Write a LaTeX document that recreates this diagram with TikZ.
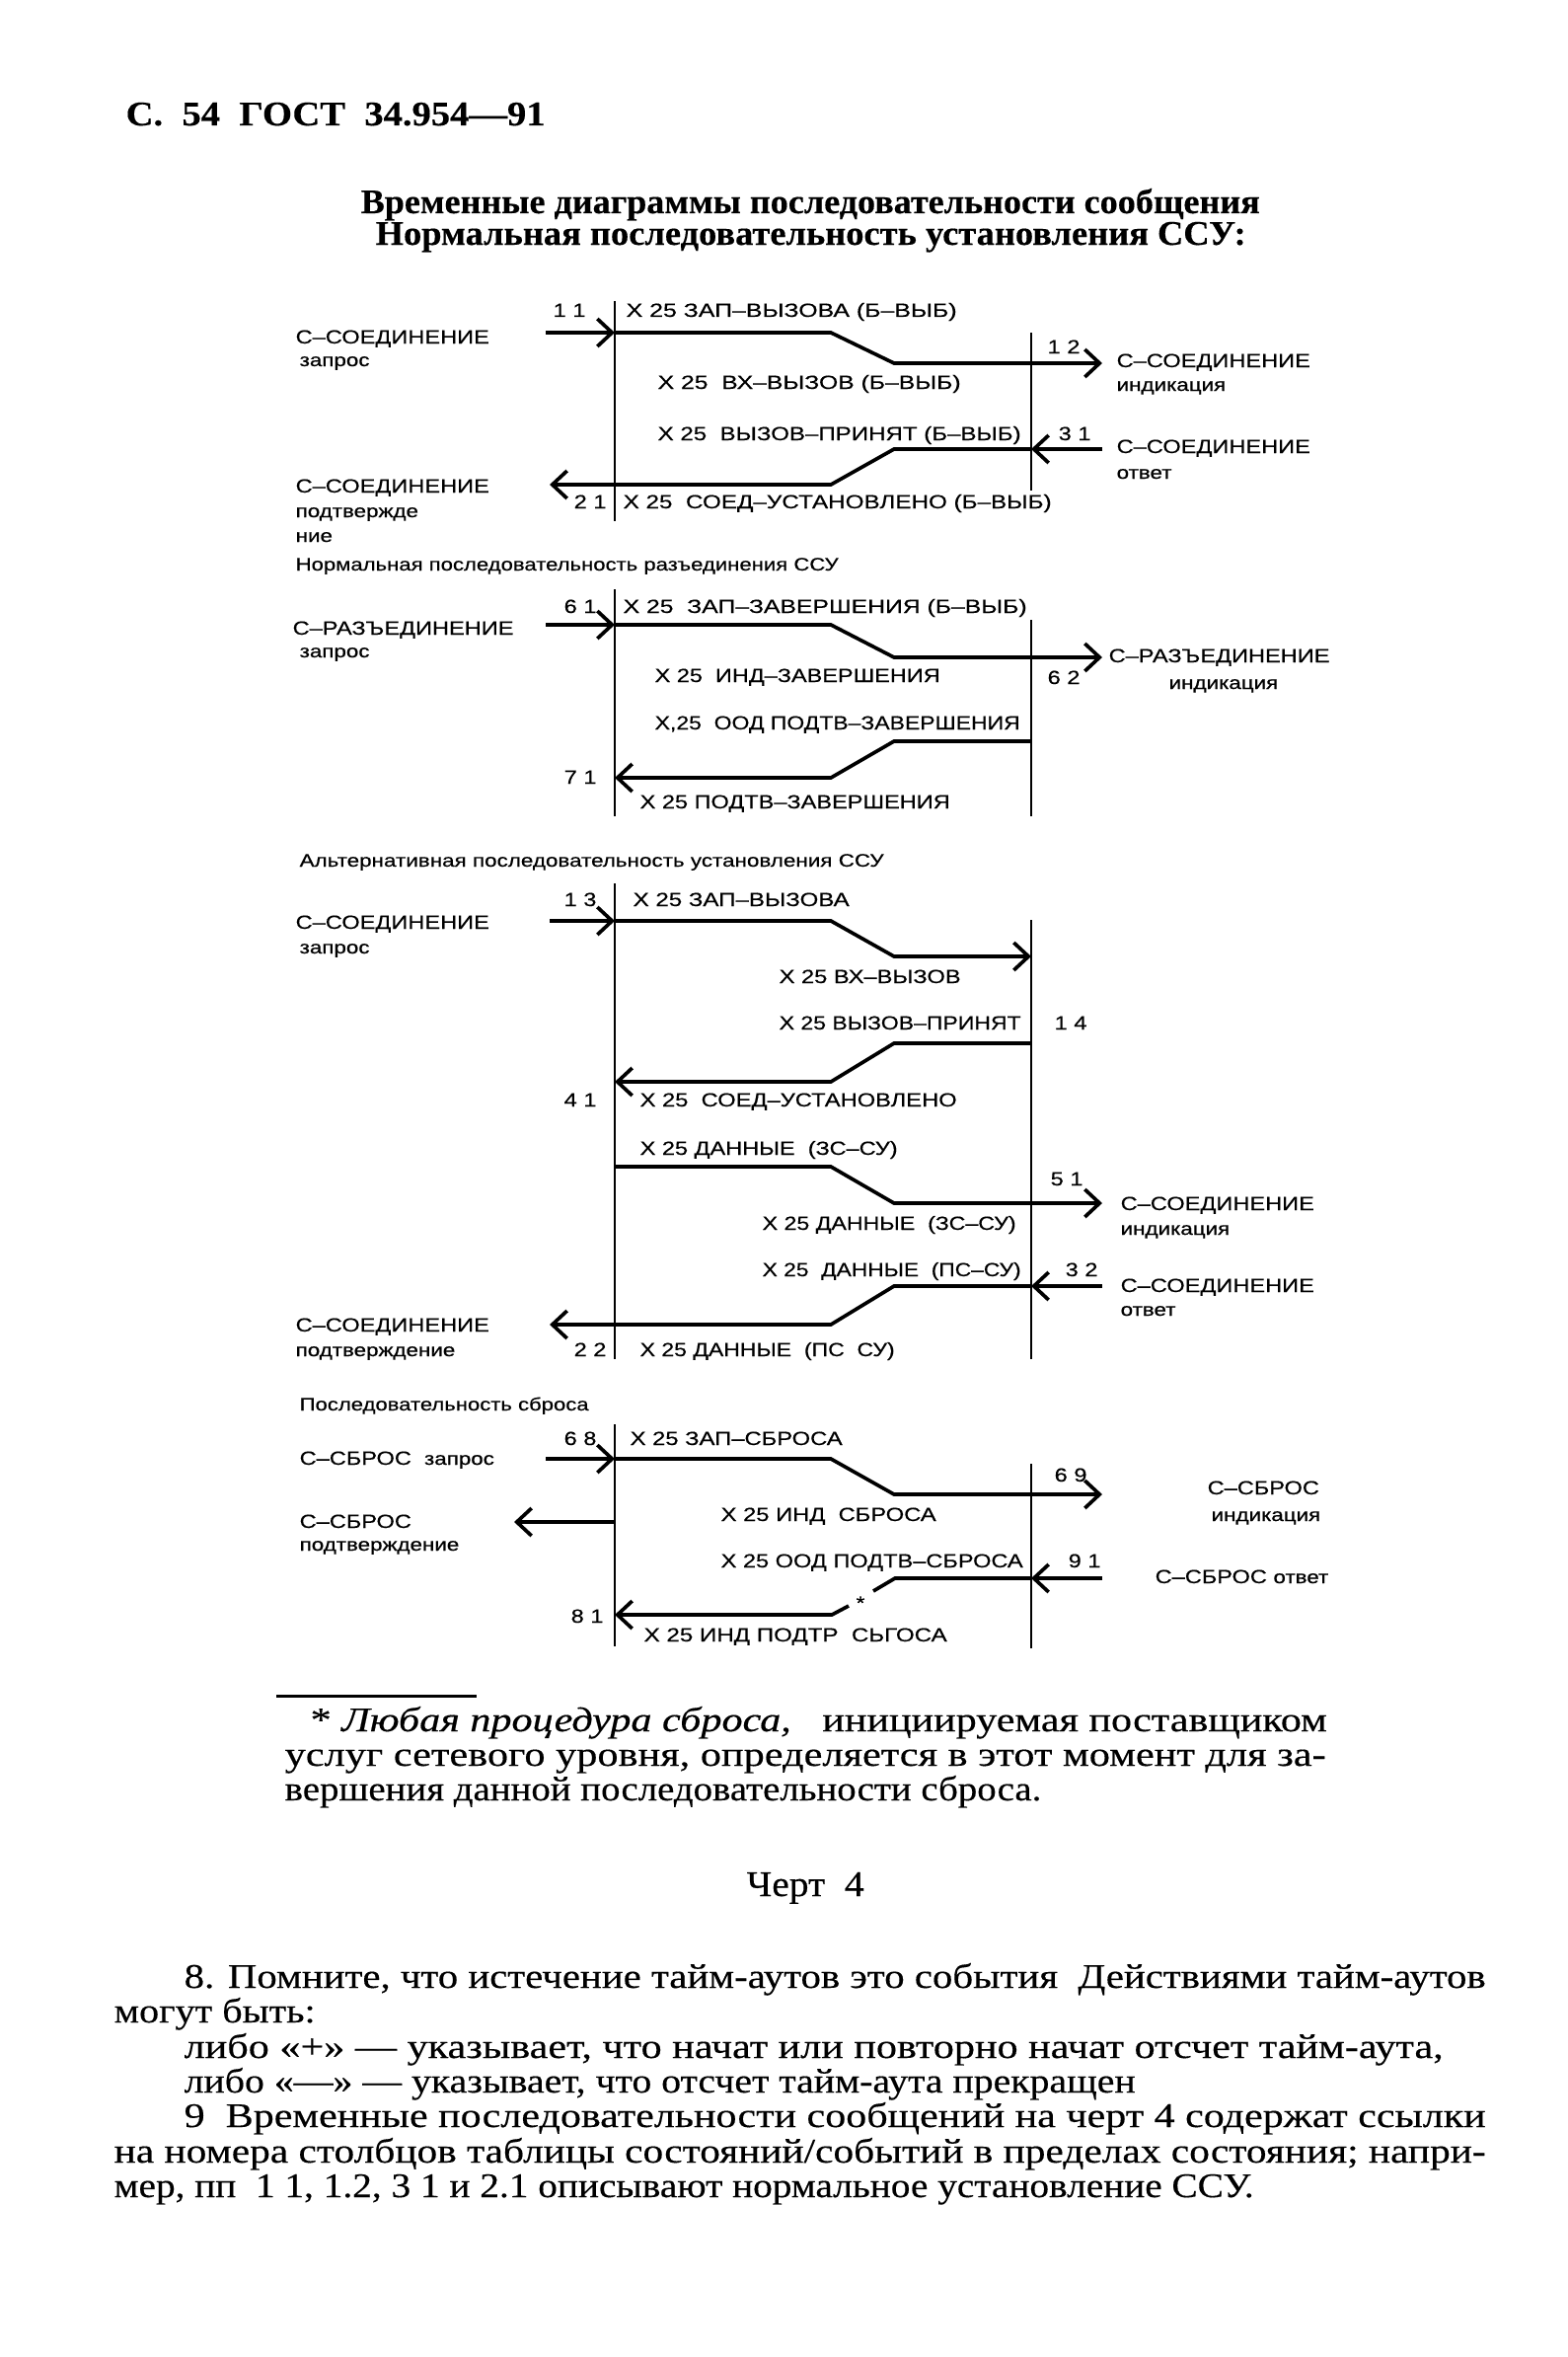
\documentclass[tikz,border=0pt]{standalone}
\usepackage{fontspec}
\usepackage{graphicx}
\setmainfont{Liberation Serif}[FakeBold=0.3]
\newfontfamily\diagf[FakeStretch=1.22,FakeBold=0.35]{Liberation Sans}
\newfontfamily\diagsf[FakeStretch=1.22,FakeBold=0.7]{Liberation Sans}
\usetikzlibrary{arrows.meta}
\newcommand\fw[2]{\resizebox{#1}{\height}{#2}}
\newcommand\dgfont{\diagf\fontsize{5.8pt}{7pt}\selectfont}
\newcommand\dgsmall{\diagsf\fontsize{5.5pt}{7pt}\selectfont}
\newcommand\dgsub{\diagf\fontsize{5.5pt}{7pt}\selectfont}
\newcommand\bodyfont{\fontsize{10.5pt}{12pt}\selectfont}
\begin{document}
\begin{tikzpicture}[x=0.3pt,y=-0.3pt,
  lbl/.style={anchor=base west,inner sep=0pt,font=\dgfont},
  sml/.style={anchor=base west,inner sep=0pt,font=\dgsmall},
  sub/.style={anchor=base west,inner sep=0pt,font=\dgsub},
  txt/.style={anchor=base west,inner sep=0pt,font=\bodyfont},
  thk/.style={line width=1.1pt},
  vln/.style={line width=0.7pt},
  arr/.style={-{Straight Barb[length=4.5pt,width=8.4pt]}}]
\fill[white] (0,0) rectangle (1588,2388);
\path[use as bounding box] (0,0) rectangle (1588,2388);

% header and titles
\node[txt] (hdr) at (127,127) {\fw{127.5pt}{\bfseries С.\ \ 54\ \ ГОСТ\ \ 34.954—91}};
\node[txt] (ttl1) at (365,216) {\fw{273.3pt}{\bfseries Временные диаграммы последовательности сообщения}};
\node[txt] (ttl2) at (380,248) {\fw{264.6pt}{\bfseries Нормальная последовательность установления ССУ:}};

% ===== Diagram 1 =====
\coordinate (d1Lt) at (623,305); \coordinate (d1Lb) at (623,528);
\coordinate (d1Rt) at (1045,337); \coordinate (d1Rb) at (1045,497);
\draw[vln] (d1Lt) -- (d1Lb);
\draw[vln] (d1Rt) -- (d1Rb);
\coordinate (d1a0) at (553,337); \coordinate (d1a1) at (623,337);
\coordinate (d1a2) at (842,337); \coordinate (d1a3) at (906,368);
\coordinate (d1a4) at (1117,368);
\draw[thk,arr] (d1a0) -- (d1a1);
\draw[thk,arr] (d1a1) -- (d1a2) -- (d1a3) -- (d1a4);
\coordinate (d1b0) at (1117,455); \coordinate (d1b1) at (1045,455);
\coordinate (d1b2) at (906,455); \coordinate (d1b3) at (842,491);
\coordinate (d1b4) at (557,491);
\draw[thk,arr] (d1b0) -- (d1b1);
\draw[thk,arr] (d1b1) -- (d1b2) -- (d1b3) -- (d1b4);
\node[lbl] (n11) at (560,321) {1 1};
\node[lbl] (t11) at (634,321) {\fw{100.5pt}{X 25 ЗАП–ВЫЗОВА (Б–ВЫБ)}};
\node[lbl] (l1a) at (299,348) {С–СОЕДИНЕНИЕ};
\node[sml] (l1as) at (303,371) {запрос};
\node[lbl] (n12) at (1061,358) {1 2};
\node[lbl] (r1a) at (1131,372) {С–СОЕДИНЕНИЕ};
\node[sml] (r1as) at (1131,396) {индикация};
\node[lbl] (t12) at (666,394) {\fw{92.1pt}{X 25\ \ ВХ–ВЫЗОВ (Б–ВЫБ)}};
\node[lbl] (t31) at (666,446) {\fw{110.4pt}{X 25\ \ ВЫЗОВ–ПРИНЯТ (Б–ВЫБ)}};
\node[lbl] (n31) at (1072,446) {3 1};
\node[lbl] (r1b) at (1131,459) {С–СОЕДИНЕНИЕ};
\node[sml] (r1bs) at (1131,485) {ответ};
\node[lbl] (l1b) at (299,499) {С–СОЕДИНЕНИЕ};
\node[sml] (l1bs) at (299,524) {подтвержде};
\node[sml] (l1bs2) at (299,549) {ние};
\node[lbl] (n21) at (581,515) {2 1};
\node[lbl] (t21) at (631,515) {\fw{130.2pt}{X 25\ \ СОЕД–УСТАНОВЛЕНО (Б–ВЫБ)}};

\node[sub] (s2) at (299,578) {\fw{165pt}{Нормальная последовательность разъединения ССУ}};

% ===== Diagram 2 =====
\coordinate (d2Lt) at (623,597); \coordinate (d2Lb) at (623,827);
\coordinate (d2Rt) at (1045,628); \coordinate (d2Rb) at (1045,827);
\draw[vln] (d2Lt) -- (d2Lb);
\draw[vln] (d2Rt) -- (d2Rb);
\coordinate (d2a0) at (553,633); \coordinate (d2a1) at (623,633);
\coordinate (d2a2) at (842,633); \coordinate (d2a3) at (906,666);
\coordinate (d2a4) at (1117,666);
\draw[thk,arr] (d2a0) -- (d2a1);
\draw[thk,arr] (d2a1) -- (d2a2) -- (d2a3) -- (d2a4);
\coordinate (d2b1) at (1045,751); \coordinate (d2b2) at (906,751);
\coordinate (d2b3) at (842,788); \coordinate (d2b4) at (623,788);
\draw[thk,arr] (d2b1) -- (d2b2) -- (d2b3) -- (d2b4);
\node[lbl] (n61) at (571,621) {6 1};
\node[lbl] (t61) at (631,621) {\fw{122.7pt}{X 25\ \ ЗАП–ЗАВЕРШЕНИЯ (Б–ВЫБ)}};
\node[lbl] (l2a) at (296,643) {С–РАЗЪЕДИНЕНИЕ};
\node[sml] (l2as) at (303,666) {запрос};
\node[lbl] (r2a) at (1123,671) {С–РАЗЪЕДИНЕНИЕ};
\node[sml] (r2as) at (1184,698) {индикация};
\node[lbl] (t62) at (663,691) {\fw{86.7pt}{X 25\ \ ИНД–ЗАВЕРШЕНИЯ}};
\node[lbl] (n62) at (1061,693) {6 2};
\node[lbl] (t71a) at (663,739) {\fw{111pt}{X,25\ \ ООД ПОДТВ–ЗАВЕРШЕНИЯ}};
\node[lbl] (n71) at (571,794) {7 1};
\node[lbl] (t71) at (648,819) {\fw{94.2pt}{X 25 ПОДТВ–ЗАВЕРШЕНИЯ}};

\node[sub] (s3) at (303,878) {\fw{177.6pt}{Альтернативная последовательность установления ССУ}};

% ===== Diagram 3 =====
\coordinate (d3Lt) at (623,895); \coordinate (d3Lb) at (623,1377);
\coordinate (d3Rt) at (1045,932); \coordinate (d3Rb) at (1045,1377);
\draw[vln] (d3Lt) -- (d3Lb);
\draw[vln] (d3Rt) -- (d3Rb);
\coordinate (d3a0) at (557,933); \coordinate (d3a1) at (623,933);
\coordinate (d3a2) at (842,933); \coordinate (d3a3) at (906,969);
\coordinate (d3a4) at (1045,969);
\draw[thk,arr] (d3a0) -- (d3a1);
\draw[thk,arr] (d3a1) -- (d3a2) -- (d3a3) -- (d3a4);
\coordinate (d3b1) at (1045,1057); \coordinate (d3b2) at (906,1057);
\coordinate (d3b3) at (842,1096); \coordinate (d3b4) at (623,1096);
\draw[thk,arr] (d3b1) -- (d3b2) -- (d3b3) -- (d3b4);
\coordinate (d3c1) at (623,1182); \coordinate (d3c2) at (842,1182);
\coordinate (d3c3) at (906,1219); \coordinate (d3c4) at (1117,1219);
\draw[thk,arr] (d3c1) -- (d3c2) -- (d3c3) -- (d3c4);
\coordinate (d3d0) at (1117,1303); \coordinate (d3d1) at (1045,1303);
\coordinate (d3d2) at (906,1303); \coordinate (d3d3) at (842,1342);
\coordinate (d3d4) at (557,1342);
\draw[thk,arr] (d3d0) -- (d3d1);
\draw[thk,arr] (d3d1) -- (d3d2) -- (d3d3) -- (d3d4);
\node[lbl] (n13) at (571,918) {1 3};
\node[lbl] (t13) at (641,918) {\fw{65.7pt}{X 25 ЗАП–ВЫЗОВА}};
\node[lbl] (l3a) at (299,941) {С–СОЕДИНЕНИЕ};
\node[sml] (l3as) at (303,966) {запрос};
\node[lbl] (t3b) at (789,996) {\fw{55.2pt}{X 25 ВХ–ВЫЗОВ}};
\node[lbl] (t3c) at (789,1043) {\fw{73.5pt}{X 25 ВЫЗОВ–ПРИНЯТ}};
\node[lbl] (n14) at (1068,1043) {1 4};
\node[lbl] (n41) at (571,1121) {4 1};
\node[lbl] (t41) at (648,1121) {\fw{96.3pt}{X 25\ \ СОЕД–УСТАНОВЛЕНО}};
\node[lbl] (t3d) at (648,1170) {\fw{78.3pt}{X 25 ДАННЫЕ\ \ (ЗС–СУ)}};
\node[lbl] (n51) at (1064,1201) {5 1};
\node[lbl] (r3a) at (1135,1226) {С–СОЕДИНЕНИЕ};
\node[sml] (r3as) at (1135,1251) {индикация};
\node[lbl] (t3e) at (772,1246) {\fw{77.1pt}{X 25 ДАННЫЕ\ \ (ЗС–СУ)}};
\node[lbl] (t3f) at (772,1293) {\fw{78.6pt}{X 25\ \ ДАННЫЕ\ \ (ПС–СУ)}};
\node[lbl] (n32) at (1079,1293) {3 2};
\node[lbl] (r3b) at (1135,1309) {С–СОЕДИНЕНИЕ};
\node[sml] (r3bs) at (1135,1333) {ответ};
\node[lbl] (l3b) at (299,1349) {С–СОЕДИНЕНИЕ};
\node[sml] (l3bs) at (299,1374) {подтверждение};
\node[lbl] (n22) at (581,1374) {2 2};
\node[lbl] (t22) at (648,1374) {\fw{77.4pt}{X 25 ДАННЫЕ\ \ (ПС\ \ СУ)}};

\node[sub] (s4) at (303,1429) {\fw{87.9pt}{Последовательность сброса}};

% ===== Diagram 4 =====
\coordinate (d4Lt) at (623,1443); \coordinate (d4Lb) at (623,1668);
\coordinate (d4Rt) at (1045,1483); \coordinate (d4Rb) at (1045,1670);
\draw[vln] (d4Lt) -- (d4Lb);
\draw[vln] (d4Rt) -- (d4Rb);
\coordinate (d4a0) at (553,1478); \coordinate (d4a1) at (623,1478);
\coordinate (d4a2) at (842,1478); \coordinate (d4a3) at (906,1514);
\coordinate (d4a4) at (1117,1514);
\draw[thk,arr] (d4a0) -- (d4a1);
\draw[thk,arr] (d4a1) -- (d4a2) -- (d4a3) -- (d4a4);
\coordinate (d4l0) at (623,1542); \coordinate (d4l1) at (521,1542);
\draw[thk,arr] (d4l0) -- (d4l1);
\coordinate (d4b0) at (1117,1599); \coordinate (d4b1) at (1045,1599);
\coordinate (d4b2) at (907,1599); \coordinate (d4b3) at (885,1612);
\coordinate (d4b4) at (860,1627); \coordinate (d4b5) at (843,1636);
\coordinate (d4b6) at (623,1636);
\draw[thk,arr] (d4b0) -- (d4b1);
\draw[thk] (d4b1) -- (d4b2) -- (d4b3);
\draw[thk,arr] (d4b4) -- (d4b5) -- (d4b6);
\node[inner sep=0pt,font=\dgsmall] (star) at (872,1624) {*};
\node[lbl] (n68) at (571,1464) {6 8};
\node[lbl] (t68) at (638,1464) {\fw{64.5pt}{X 25 ЗАП–СБРОСА}};
\node[lbl] (l4a) at (303,1484) {С–СБРОС\ \ {\dgsmall запрос}};
\node[lbl] (n69) at (1068,1501) {6 9};
\node[lbl] (r4a) at (1223,1514) {С–СБРОС};
\node[sml] (r4as) at (1227,1541) {индикация};
\node[lbl] (l4b) at (303,1548) {С–СБРОС};
\node[sml] (l4bs) at (303,1571) {подтверждение};
\node[lbl] (t4b) at (730,1541) {\fw{65.4pt}{X 25 ИНД\ \ СБРОСА}};
\node[lbl] (t4c) at (730,1588) {\fw{91.8pt}{X 25 ООД ПОДТВ–СБРОСА}};
\node[lbl] (n91) at (1082,1588) {9 1};
\node[lbl] (r4b) at (1170,1604) {С–СБРОС {\dgsmall ответ}};
\node[lbl] (n81) at (578,1644) {8 1};
\node[lbl] (t81) at (652,1663) {\fw{92.1pt}{X 25 ИНД ПОДТР\ \ СЬГОСА}};

% ===== footnote =====
\coordinate (fr0) at (280,1718); \coordinate (fr1) at (483,1718);
\draw[line width=0.9pt] (fr0) -- (fr1);
\node[txt] (f1) at (314,1754) {\fw{309pt}{* \textit{Любая процедура сброса,}\ \ \ инициируемая поставщиком}};
\node[txt] (f2) at (288,1789) {\fw{316.5pt}{услуг сетевого уровня, определяется в этот момент для за-}};
\node[txt] (f3) at (288,1824) {\fw{230pt}{вершения данной последовательности сброса.}};
\node[txt,font=\fontsize{11pt}{13pt}\selectfont] (chert) at (756,1921) {\fw{35.7pt}{Черт\ \ 4}};

% ===== paragraph =====
\node[txt] (p1) at (186,2014) {\fw{395.7pt}{8. Помните, что истечение тайм-аутов это события\ \ Действиями тайм-аутов}};
\node[txt] (p2) at (115,2049) {\fw{61.2pt}{могут быть:}};
\node[txt] (p3) at (186,2085) {\fw{382.8pt}{либо «+» — указывает, что начат или повторно начат отсчет тайм-аута,}};
\node[txt] (p4) at (186,2120) {\fw{289.2pt}{либо «—» — указывает, что отсчет тайм-аута прекращен}};
\node[txt] (p5) at (186,2155) {\fw{395.7pt}{9\ \ Временные последовательности сообщений на черт 4 содержат ссылки}};
\node[txt] (p6) at (115,2191) {\fw{417pt}{на номера столбцов таблицы состояний/событий в пределах состояния; напри-}};
\node[txt] (p7) at (115,2226) {\fw{346.5pt}{мер, пп\ \ 1 1, 1.2, 3 1 и 2.1 описывают нормальное установление ССУ.}};
\end{tikzpicture}
\end{document}
